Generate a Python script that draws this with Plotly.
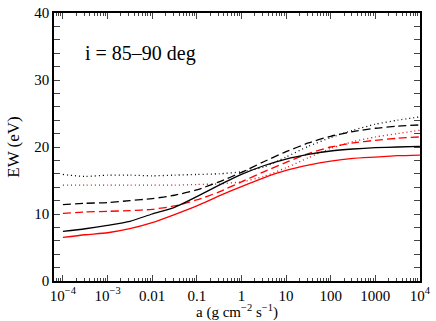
import plotly.graph_objects as go

# log10(a) grid
log_a = [-4, -3.5, -3, -2.5, -2, -1.5, -1, -0.5, 0, 0.5, 1, 1.5, 2, 2.5, 3, 3.5, 4]

blk_solid = [7.4, 7.8, 8.3, 8.9, 10.0, 11.0, 12.6, 14.3, 15.9, 17.2, 18.2, 18.9, 19.4, 19.7, 19.9, 20.0, 20.1]
red_solid = [6.5, 6.9, 7.2, 7.8, 8.7, 9.9, 11.2, 12.7, 14.1, 15.4, 16.5, 17.3, 17.9, 18.3, 18.5, 18.7, 18.8]
blk_dash = [11.4, 11.6, 11.7, 12.0, 12.3, 12.8, 13.6, 14.8, 16.2, 17.8, 19.3, 20.6, 21.6, 22.3, 22.8, 23.1, 23.3]
red_dash = [10.1, 10.3, 10.4, 10.5, 10.7, 11.2, 12.1, 13.3, 14.8, 16.3, 17.7, 19.0, 20.0, 20.6, 21.0, 21.3, 21.5]
blk_dot = [15.9, 15.6, 15.8, 15.8, 15.7, 15.8, 15.9, 16.0, 16.3, 17.0, 18.5, 20.1, 21.4, 22.5, 23.4, 24.0, 24.5]
red_dot = [14.3, 14.3, 14.3, 14.3, 14.3, 14.3, 14.4, 14.5, 14.8, 15.6, 16.9, 18.4, 19.8, 20.8, 21.5, 22.0, 22.5]

x_tickvals = [1e-4, 1e-3, 0.01, 0.1, 1, 10, 100, 1000, 1e4]
x_ticktext = ["10<sup>\u22124</sup>", "10<sup>\u22123</sup>", "0.01", "0.1", "1", "10", "100", "1000", "10<sup>4</sup>"]

a = [10 ** v for v in log_a]

series = [
    (blk_dot, "black", "1px,3px"),
    (red_dot, "red", "1px,3px"),
    (blk_dash, "black", "8px,4px"),
    (red_dash, "red", "8px,4px"),
    (blk_solid, "black", "solid"),
    (red_solid, "red", "solid"),
]

fig = go.Figure()
for ys, col, dash in series:
    fig.add_trace(go.Scatter(x=a, y=ys, mode="lines", showlegend=False,
                             line=dict(color=col, width=1.3, dash=dash, shape="spline", smoothing=0.6)))

# minor ticks on the log axis (overlay axis, ticks only)
minor_vals = [m * 10.0 ** d for d in range(-5, 4) for m in range(2, 10)]
fig.add_trace(go.Scatter(x=[1], y=[0], xaxis="x2", mode="markers", showlegend=False,
                         marker=dict(size=0, opacity=0), hoverinfo="skip"))

font = "Times New Roman, Liberation Serif, DejaVu Serif, serif"
xr = [-4.2, 4.002]
fig.update_layout(
    width=436, height=321,
    margin=dict(l=54, r=8, t=5, b=37),
    paper_bgcolor="white", plot_bgcolor="white",
    font=dict(family=font, size=15, color="black"),
    xaxis=dict(type="log", range=xr, tickvals=x_tickvals, ticktext=x_ticktext,
               ticks="inside", ticklen=6, tickwidth=1, mirror="allticks",
               ticklabeloverflow="allow",
               showline=True, linecolor="black", linewidth=1.5, showgrid=False, zeroline=False,
               tickfont=dict(family=font, size=15),
               title=dict(text="a (g cm<sup>\u22122</sup> s<sup>\u22121</sup>)", standoff=2,
                          font=dict(family=font, size=15))),
    xaxis2=dict(type="log", range=xr, overlaying="x", tickvals=minor_vals, showticklabels=False,
                ticks="inside", ticklen=3, tickwidth=1, mirror="allticks", showline=False,
                showgrid=False, zeroline=False),
    yaxis=dict(range=[0, 40], tickvals=[0, 10, 20, 30, 40], ticks="inside", ticklen=6,
               tickwidth=1, mirror="allticks", showline=True, linecolor="black", linewidth=1.5,
               showgrid=False, zeroline=False, tickfont=dict(family=font, size=15),
               ticklabeloverflow="allow",
               minor=dict(dtick=2, ticks="inside", ticklen=3, tickwidth=1, showgrid=False),
               title=dict(text="EW (eV)", standoff=10, font=dict(family=font, size=17))),
)

fig.add_annotation(text="i = 85\u201390 deg", xref="paper", yref="paper", x=0.08, y=0.85,
                   xanchor="left", yanchor="middle", showarrow=False,
                   font=dict(family=font, size=20))

fig.write_html("out.html", config={"displayModeBar": False},
               post_script="document.body.style.margin='0';")
